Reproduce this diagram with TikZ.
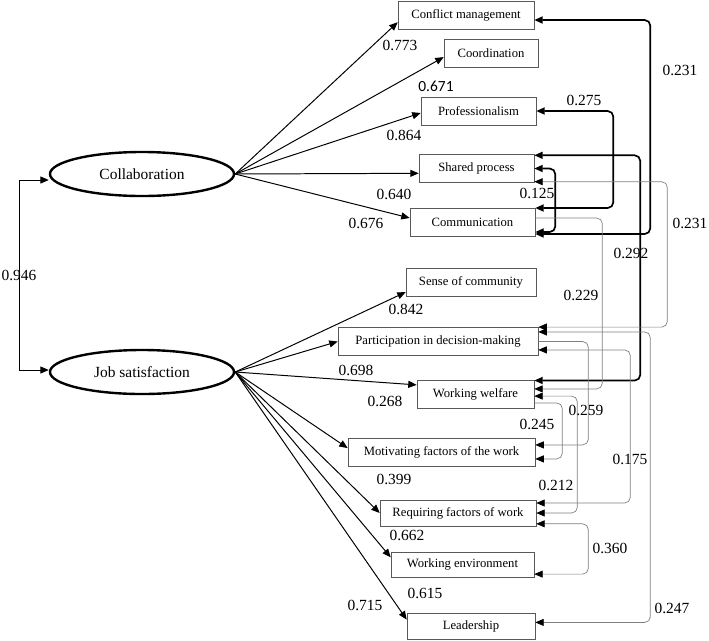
\documentclass[tikz,border=0pt]{standalone}
\usepackage{fontspec}
\setmainfont{Liberation Serif}
\newfontfamily\calibri{Carlito}
\usetikzlibrary{arrows.meta,shapes.geometric}

\begin{document}
\begin{tikzpicture}[x=0.025cm,y=-0.025cm,>={Triangle[length=6pt,width=5pt]},
  box/.style={draw=black!65,thin,minimum height=0.7cm,inner sep=1pt,font=\fontsize{9}{11}\selectfont},
  latent/.style={ellipse,draw,line width=1.7pt,minimum width=4.6cm,minimum height=1.1cm,font=\fontsize{11}{13}\selectfont},
  load/.style={->,line width=0.7pt},
  covb/.style={<->,line width=1.2pt,rounded corners=4pt},
  covg/.style={line width=0.5pt,draw=black!50,rounded corners=4pt,>={Triangle[length=6pt,width=5pt,black]}},
  coef/.style={font=\fontsize{11}{13}\selectfont,inner sep=0pt}]
  \useasboundingbox (0,0) rectangle (709,640);

  % latent variables
  \node (collab) [latent] at (142,174) {Collaboration\hspace{0.45cm}};
  \node (jobsat) [latent] at (142,372) {Job satisfaction\hspace{0.15cm}};

  % observed variables
  \node (conflict) [box,minimum width=3.4cm]   at (466,15)    {Conflict management};
  \node (coord)    [box,minimum width=2.35cm]  at (491,53.5)  {Coordination};
  \node (prof)     [box,minimum width=2.875cm] at (478.5,111) {Professionalism};
  \node (shared)   [box,minimum width=2.875cm] at (476.5,168.5) {Shared process};
  \node (comm)     [box,minimum width=3.125cm] at (472.5,222) {Communication};
  \node (sense)    [box,minimum width=3.25cm]  at (471,282.5) {Sense of community};
  \node (partic)   [box,minimum width=5cm]     at (438,341.5) {Participation in decision-making};
  \node (welfare)  [box,minimum width=2.925cm] at (475.5,394.5) {Working welfare};
  \node (motiv)    [box,minimum width=4.675cm] at (441.5,452.5) {Motivating factors of the work};
  \node (requir)   [box,minimum width=3.9cm,minimum height=0.65cm] at (458,513) {Requiring factors of work};
  \node (environ)  [box,minimum width=3.575cm,minimum height=0.625cm] at (462.5,564.5) {Working environment};
  \node (leader)   [box,minimum width=3.2cm,minimum height=0.66cm] at (471,626) {Leadership};

  % loadings
  \foreach \b/\s in {conflict/-0.18,coord/-0.09,prof/-0.05,shared/-0.12,comm/0.1}
    \draw[load] (collab.east) -- ([yshift=\s cm]\b.west);
  \foreach \b/\s in {sense/-0.24,partic/0,welfare/0.24,motiv/0.11,requir/0,environ/0.18,leader/0.16}
    \draw[load] (jobsat.east) -- ([yshift=\s cm]\b.west);

  % correlation of the latent variables
  \draw[<->,line width=0.7pt] ([yshift=-0.15cm]collab.west) -- ++(-29,0) |- ([yshift=0.05cm]jobsat.west);

  % correlated errors, thick
  \draw[covb] ([yshift=-0.125cm]conflict.east) -- ++(116,0) |- ([yshift=-0.3cm]comm.east);
  \draw[covb] (prof.east) -- ++(77,0) |- ([yshift=0.35cm]comm.east);
  \draw[covb] ([yshift=0.33cm]shared.east) -- ++(106,0) |- ([yshift=0.35cm]welfare.east);
  \draw[covb] (shared.east) -- ++(21,0) |- ([yshift=-0.25cm]comm.east);

  % correlated errors, thin
  \draw[covg,<->] ([yshift=-0.33cm]shared.east) -- ++(133,0) |- ([yshift=0.36cm]partic.east);
  \draw[covg,->] ([yshift=0.1cm]comm.east) -- ++(67,0) |- ([yshift=0.14cm]welfare.east);
  \draw[covg,<->] ([yshift=0.24cm]partic.east) -- ++(112,0) |- ([yshift=0.09cm]leader.east);
  \draw[covg,->] (partic.east) -- ++(50,0) |- ([yshift=0.19cm]motiv.east);
  \draw[covg,<->] ([yshift=-0.21cm]partic.east) -- ++(92,0) |- ([yshift=0.25cm]requir.east);
  \draw[covg,<->] ([yshift=-0.04cm]welfare.east) -- ++(43,0) |- (requir.east);
  \draw[covg,->] ([yshift=-0.21cm]welfare.east) -- ++(28,0) |- ([yshift=-0.16cm]motiv.east);
  \draw[covg,<->] ([yshift=-0.27cm]requir.east) -- ++(52,0) |- ([yshift=-0.24cm]environ.east);

  % coefficients
  \foreach \x/\y/\t [count=\i] in {400/45/0.773,404/135/0.864,394/194/0.640,366/223/0.676,
      19/275/0.946,406/309/0.842,356/370/0.698,385/401/0.268,394/479/0.399,407/535/0.662,
      425/593/0.615,365/605/0.715,680/70/0.231,584/100/0.275,537/193/0.125,690/223/0.231,
      631/253/0.292,581/295/0.229,586/410/0.259,537/424/0.245,630/459/0.175,556/485/0.212,
      610/548/0.360,672/608/0.247}
    \node (coef\i) [coef] at (\x,\y) {\t};
  \node (coefcoord) [coef,font=\calibri\fontsize{11}{13}\selectfont] at (436,86) {0.671};
\end{tikzpicture}
\end{document}
